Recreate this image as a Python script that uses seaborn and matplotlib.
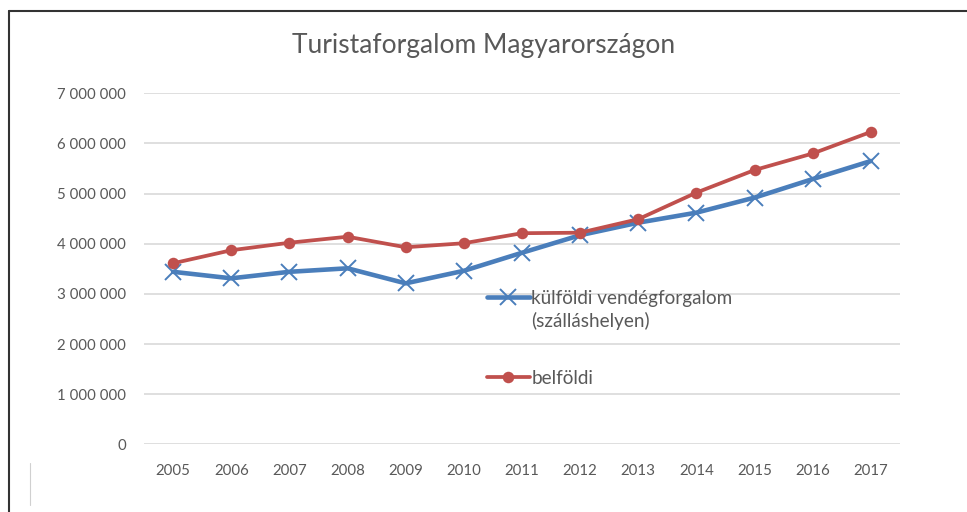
import matplotlib
matplotlib.use("Agg")
import matplotlib.pyplot as plt
from matplotlib.lines import Line2D
import seaborn as sns
import pandas as pd

years = [2005, 2006, 2007, 2008, 2009, 2010, 2011, 2012, 2013, 2014, 2015, 2016, 2017]
kulfoldi = [3440000, 3310000, 3440000, 3510000, 3210000, 3460000, 3820000,
            4170000, 4420000, 4620000, 4920000, 5290000, 5650000]
belfoldi = [3610000, 3870000, 4020000, 4140000, 3930000, 4010000, 4210000,
            4220000, 4490000, 5020000, 5470000, 5800000, 6230000]
y_ticks = [0, 1000000, 2000000, 3000000, 4000000, 5000000, 6000000, 7000000]

title = "Turistaforgalom Magyarországon"
label_kulf = "külföldi vendégforgalom"
label_kulf2 = "(szálláshelyen)"
label_belf = "belföldi"

BLUE = "#4a7ebb"
RED = "#c0504d"
GREY = "#595959"

df = pd.DataFrame({"year": years, "kulf": kulfoldi, "belf": belfoldi})

sns.set_theme(style="white")
plt.rcParams["font.family"] = ["Lato", "DejaVu Sans"]

fig = plt.figure(figsize=(9.67, 5.12), dpi=100)
ax = fig.add_axes([144 / 967, 1 - 444.3 / 512, (900 - 144) / 967, (444.3 - 93.3) / 512])

sns.lineplot(data=df, x="year", y="kulf", ax=ax, color=BLUE, linewidth=3.3,
             marker="x", markersize=11, markeredgewidth=1.4, markeredgecolor=BLUE, zorder=3)
sns.lineplot(data=df, x="year", y="belf", ax=ax, color=RED, linewidth=2.7,
             marker="o", markersize=8.3, markeredgewidth=0, zorder=4)

ax.set_xlim(years[0] - 0.5, years[-1] + 0.5)
ax.set_ylim(0, 7000000)
ax.set_xticks(years)
ax.set_xticklabels([str(y) for y in years])
ax.set_yticks(y_ticks)
ax.set_yticklabels([f"{v:,}".replace(",", " ") for v in y_ticks])
ax.set_xlabel("")
ax.set_ylabel("")
ax.tick_params(axis="both", length=0, labelsize=10.8, colors=GREY)
ax.tick_params(axis="x", pad=14)
ax.tick_params(axis="y", pad=13)
ax.grid(axis="y", color="#d9d9d9", linewidth=1.2)
ax.grid(axis="x", visible=False)
for s in ax.spines.values():
    s.set_visible(False)

fig.text(0.5, 1 - 45 / 512, title, ha="center", va="center", fontsize=19, color=GREY)

# legend: two-line entry for the foreign series, single entry for domestic
h_kulf = Line2D([], [], color=BLUE, linewidth=3.3, marker="x", markersize=11, markeredgewidth=1.4)
h_blank = Line2D([], [], alpha=0)
h_belf = Line2D([], [], color=RED, linewidth=2.7, marker="o", markersize=8.3, markeredgewidth=0)
leg_kw = dict(frameon=False, fontsize=13.6, handlelength=2.25, handletextpad=0.1,
              labelcolor=GREY, borderpad=0, borderaxespad=0)
leg1 = ax.legend([h_kulf, h_blank], [label_kulf, label_kulf2], loc="center left",
                 bbox_to_anchor=(487 / 967, 1 - 310 / 512), bbox_transform=fig.transFigure,
                 labelspacing=0.3, **leg_kw)
ax.add_artist(leg1)
ax.legend([h_belf], [label_belf], loc="center left",
          bbox_to_anchor=(487 / 967, 1 - 378 / 512), bbox_transform=fig.transFigure,
          **leg_kw)

# chart frame (top and left edges)
fig.add_artist(Line2D([8.5 / 967, 1], [1 - 10.5 / 512, 1 - 10.5 / 512], color="#333333",
                      linewidth=1.5, transform=fig.transFigure))
fig.add_artist(Line2D([8.5 / 967, 8.5 / 967], [0, 1 - 10.5 / 512], color="#333333",
                      linewidth=1.5, transform=fig.transFigure))
fig.add_artist(Line2D([30 / 967, 30 / 967], [1 - 505 / 512, 1 - 463 / 512], color="#d0d0d0",
                      linewidth=0.8, transform=fig.transFigure))

fig.savefig("out.png", dpi=100)
